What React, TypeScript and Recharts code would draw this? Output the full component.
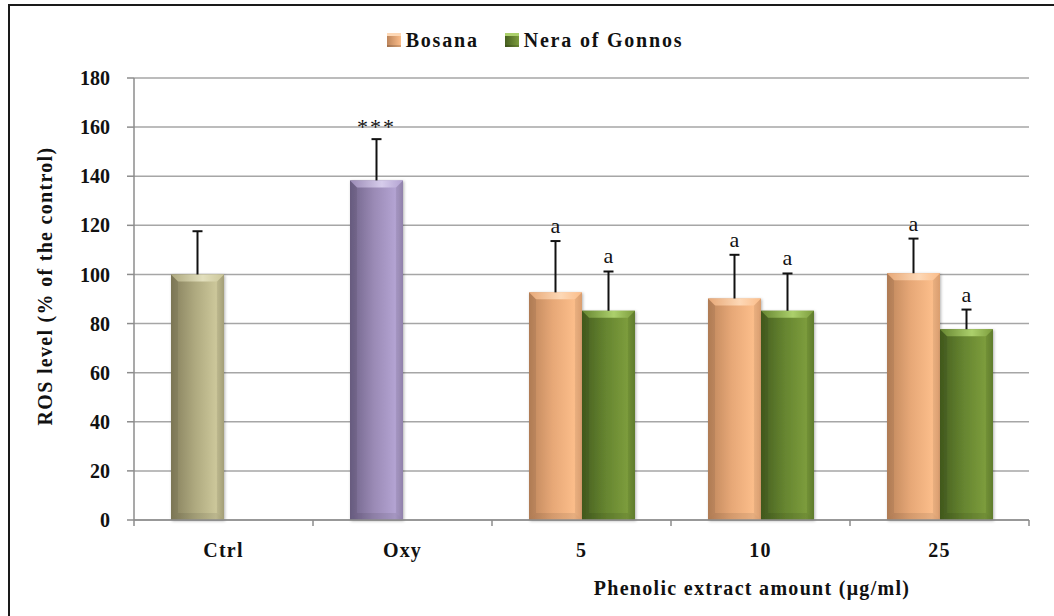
import React from "react";
import { BarChart, Bar, XAxis, YAxis, CartesianGrid } from "recharts";

const categories = ["Ctrl", "Oxy", "5", "10", "25"];
// Ctrl and Oxy sit in the first series slot, coloured per cell
const bosana = [100, 138.3, 92.7, 90.2, 100.5];
const bosanaErr = [17.6, 16.8, 20.9, 17.8, 14.1];
const bosanaMarks = ["", "***", "a", "a", "a"];
const bosanaTones = ["khaki", "purple", "orange", "orange", "orange"];
const nera = [null, null, 85.2, 85.2, 77.7];
const neraErr = [null, null, 16.0, 15.2, 8.0];
const neraMarks = ["", "", "a", "a", "a"];
const yTicks = [0, 20, 40, 60, 80, 100, 120, 140, 160, 180];

const W = 1054;
const H = 616;
const X_AXIS_H = 30;
const MARGIN = { top: 78, right: 25, bottom: 96 - X_AXIS_H, left: 0 };
const Y_AXIS_W = 134;
const FONT = "'Liberation Serif', 'Times New Roman', serif";

const tones: Record<string, { dark: string; mid: string; light: string; top: string }> = {
  khaki: { dark: "#857f5c", mid: "#aea97f", light: "#ccc79a", top: "#e2dfbd" },
  purple: { dark: "#6f6288", mid: "#9a8ab5", light: "#b3a3d2", top: "#d6cceb" },
  orange: { dark: "#bd855b", mid: "#e7a877", light: "#fbbd8a", top: "#fdd8b6" },
  green: { dark: "#465f20", mid: "#668530", light: "#7c9c3c", top: "#acd06c" },
};

const rows = categories.map((c, i) => ({
  name: c,
  bosana: bosana[i],
  bosanaErr: bosanaErr[i],
  bosanaMark: bosanaMarks[i],
  bosanaTone: bosanaTones[i],
  nera: nera[i],
  neraErr: neraErr[i],
  neraMark: neraMarks[i],
  neraTone: "green",
}));

function makeShape(key: "bosana" | "nera") {
  return function BeveledBar(props: any) {
    const { x, y, width, height, payload } = props;
    const value = payload[key];
    if (value == null || !height || height <= 0) return null;
    const tone = payload[key + "Tone"];
    const err = payload[key + "Err"];
    const mark = payload[key + "Mark"];
    const b = 7;
    const perUnit = height / value;
    const cx = x + width / 2;
    const errTop = y - err * perUnit;
    return (
      <g>
        <g filter="url(#barShadow)">
          <rect x={x} y={y} width={width} height={height} fill={`url(#body-${tone})`} />
          <polygon
            points={`${x},${y} ${x + width},${y} ${x + width - b},${y + b} ${x + b},${y + b}`}
            fill={`url(#top-${tone})`}
          />
          <polygon
            points={`${x},${y} ${x + b},${y + b} ${x + b},${y + height - b} ${x},${y + height}`}
            fill="rgba(0,0,0,0.07)"
          />
          <polygon
            points={`${x + width},${y} ${x + width - b},${y + b} ${x + width - b},${y + height - b} ${x + width},${y + height}`}
            fill="rgba(0,0,0,0.06)"
          />
          <polygon
            points={`${x},${y + height} ${x + b},${y + height - b} ${x + width - b},${y + height - b} ${x + width},${y + height}`}
            fill="rgba(0,0,0,0.08)"
          />
        </g>
        <line x1={cx} y1={y} x2={cx} y2={errTop} stroke="#111" strokeWidth={2} />
        <line x1={cx - 5} y1={errTop} x2={cx + 5} y2={errTop} stroke="#111" strokeWidth={2} />
        {mark ? (
          <text
            x={cx}
            y={errTop - (mark === "***" ? 5 : 8)}
            textAnchor="middle"
            fontFamily={FONT}
            fontSize={22}
            letterSpacing={mark === "***" ? 2 : 0}
            fill="#111"
          >
            {mark}
          </text>
        ) : null}
      </g>
    );
  };
}

const band = (W - MARGIN.right - Y_AXIS_W) / categories.length;

function CategoryTick(props: any) {
  const { x, y, payload, index } = props;
  const left = x - band / 2;
  return (
    <g>
      <line x1={left} y1={y} x2={left} y2={y + 6} stroke="#8c8c8c" strokeWidth={1.5} />
      {index === categories.length - 1 ? (
        <line x1={x + band / 2} y1={y} x2={x + band / 2} y2={y + 6} stroke="#8c8c8c" strokeWidth={1.5} />
      ) : null}
      <text
        x={x}
        y={y + 37}
        textAnchor="middle"
        fontFamily={FONT}
        fontWeight="bold"
        fontSize={20}
        letterSpacing={1.2}
        fill="#111"
      >
        {payload.value}
      </text>
    </g>
  );
}

function LegendSwatch({ tone }: { tone: string }) {
  const t = tones[tone];
  return (
    <span
      style={{
        display: "inline-block",
        width: 14,
        height: 14,
        background: `linear-gradient(to right, ${t.dark}, ${t.light})`,
        boxShadow: `inset 0 3px 0 ${t.top}, inset 0 -2px 0 rgba(0,0,0,0.15)`,
        marginRight: 5,
      }}
    />
  );
}

export default function App() {
  return (
    <div
      style={{
        position: "absolute",
        left: 0,
        top: 0,
        width: W,
        height: H,
        background: "#fff",
        overflow: "hidden",
      }}
    >
      <div
        style={{
          position: "absolute",
          left: 8,
          top: 4,
          width: 1200,
          height: 800,
          border: "2px solid #1a1a1a",
        }}
      />
      <div
        style={{
          position: "absolute",
          top: 28,
          left: 0,
          width: W,
          display: "flex",
          justifyContent: "center",
          alignItems: "center",
          fontFamily: FONT,
          fontWeight: "bold",
          fontSize: 20,
          letterSpacing: 1.8,
          color: "#111",
          lineHeight: "24px",
          paddingLeft: 8,
        }}
      >
        <span style={{ display: "flex", alignItems: "center", marginRight: 26 }}>
          <LegendSwatch tone="orange" />
          Bosana
        </span>
        <span style={{ display: "flex", alignItems: "center" }}>
          <LegendSwatch tone="green" />
          Nera of Gonnos
        </span>
      </div>
      <div style={{ position: "absolute", left: 0, top: 0 }}>
        <BarChart
          width={W}
          height={H}
          data={rows}
          margin={MARGIN}
          barCategoryGap={37}
          barGap={0}
        >
          <defs>
            <filter id="barShadow" x="-20%" y="-10%" width="140%" height="120%">
              <feDropShadow dx={1} dy={1} stdDeviation={1.5} floodColor="#000" floodOpacity={0.3} />
            </filter>
            {Object.entries(tones).map(([k, t]) => (
              <React.Fragment key={k}>
                <linearGradient id={`body-${k}`} x1="0" y1="0" x2="1" y2="0">
                  <stop offset="0%" stopColor={t.dark} />
                  <stop offset="45%" stopColor={t.mid} />
                  <stop offset="85%" stopColor={t.light} />
                  <stop offset="100%" stopColor={t.mid} />
                </linearGradient>
                <linearGradient id={`top-${k}`} x1="0" y1="0" x2="1" y2="0">
                  <stop offset="0%" stopColor={t.mid} />
                  <stop offset="60%" stopColor={t.top} />
                  <stop offset="100%" stopColor={t.light} />
                </linearGradient>
              </React.Fragment>
            ))}
          </defs>
          <CartesianGrid vertical={false} stroke="#a6a6a6" strokeWidth={1.5} />
          <XAxis
            dataKey="name"
            height={X_AXIS_H}
            axisLine={{ stroke: "#8c8c8c", strokeWidth: 1.5 }}
            tickLine={false}
            tickSize={0}
            tickMargin={0}
            interval={0}
            tick={<CategoryTick />}
            label={{
              content: () => (
                <text
                  x={752}
                  y={595}
                  textAnchor="middle"
                  fontFamily={FONT}
                  fontWeight="bold"
                  fontSize={20}
                  letterSpacing={1.3}
                  fill="#111"
                >
                  Phenolic extract amount (μg/ml)
                </text>
              ),
            }}
          />
          <YAxis
            width={Y_AXIS_W}
            domain={[0, 180]}
            ticks={yTicks}
            interval={0}
            axisLine={{ stroke: "#8c8c8c", strokeWidth: 1.5 }}
            tickLine={{ stroke: "#8c8c8c", strokeWidth: 1.5 }}
            tickSize={7}
            tickMargin={17}
            tick={{ fontFamily: FONT, fontWeight: "bold", fontSize: 20, fill: "#111" }}
            label={{
              content: () => (
                <text
                  x={52}
                  y={286}
                  transform="rotate(-90 52 286)"
                  textAnchor="middle"
                  fontFamily={FONT}
                  fontWeight="bold"
                  fontSize={20}
                  letterSpacing={1.3}
                  fill="#111"
                >
                  ROS level (% of the control)
                </text>
              ),
            }}
          />
          <Bar dataKey="bosana" name="Bosana" fill="#fbbd8a" shape={makeShape("bosana")} isAnimationActive={false} />
          <Bar dataKey="nera" name="Nera of Gonnos" fill="#7c9c3c" shape={makeShape("nera")} isAnimationActive={false} />
        </BarChart>
      </div>
    </div>
  );
}
